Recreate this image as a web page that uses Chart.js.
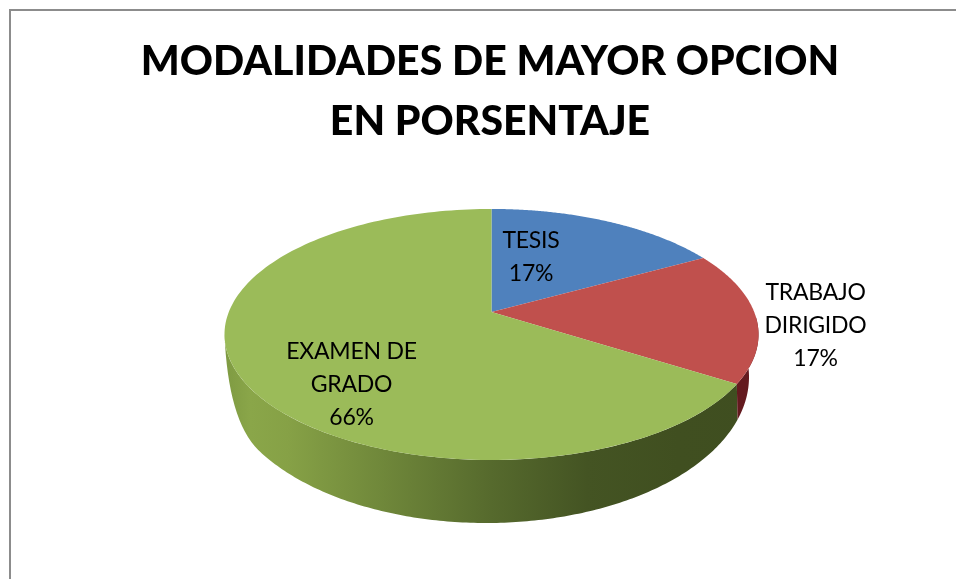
<!DOCTYPE html>
<html>
<head>
<meta charset="utf-8">
<script src="https://cdn.jsdelivr.net/npm/chart.js@4/dist/chart.umd.min.js"></script>
<style>html,body{margin:0;padding:0;background:#fff;overflow:hidden}canvas{display:block}</style>
</head>
<body>
<canvas id="c" width="956" height="579"></canvas>
<script>
const titleLines = ["MODALIDADES DE MAYOR OPCION", "EN PORSENTAJE"];
const categories = ["TESIS", "TRABAJO DIRIGIDO", "EXAMEN DE GRADO"];
const categoryLines = [["TESIS"], ["TRABAJO", "DIRIGIDO"], ["EXAMEN DE", "GRADO"]];
const percentages = [17, 17, 66];
const sliceColors = ["#4f81bd", "#c0504d", "#9bbb59"];

// projection of the flat pie on the screen (perspective tilt)
const view = { cx: 491.5, cy: 312, rx: 262.7, ry: 121.5, k: -0.179 };
// lower edge of the pie wall
const base = { cx: 486, cy: 377, rx: 263, ry: 146 };
const deg = Math.PI / 180;
const labelAnchors = [[531, 257.5], [815.5, 326], [351.5, 385]];
const labelLineHeight = 33;

function project(angle) {
  const u = Math.cos(angle), v = Math.sin(angle), w = 1 + view.k * v;
  return [view.cx + view.rx * u / w, view.cy + view.ry * v / w];
}
function topRim(ctx, a, b) {
  const n = 160;
  for (let i = 0; i <= n; i++) {
    const p = project(a + (b - a) * i / n);
    ctx.lineTo(p[0], p[1]);
  }
}
function baseRim(ctx, a, b) {
  const n = 160;
  for (let i = 0; i <= n; i++) {
    const t = a + (b - a) * i / n;
    ctx.lineTo(base.cx + base.rx * Math.cos(t), base.cy + base.ry * Math.sin(t));
  }
}
function sideGradient(ctx, stops) {
  const g = ctx.createLinearGradient(224, 0, 758, 0);
  stops.forEach(s => g.addColorStop(s[0], s[1]));
  return g;
}

const pie3d = {
  id: "pie3d",
  beforeDraw(chart) {
    const ctx = chart.ctx;
    ctx.save();
    ctx.fillStyle = "#ffffff";
    ctx.fillRect(0, 0, chart.width, chart.height);
    ctx.strokeStyle = "#8c8c8c";
    ctx.lineWidth = 2;
    ctx.beginPath();
    ctx.moveTo(10, chart.height);
    ctx.lineTo(10, 10);
    ctx.lineTo(chart.width, 10);
    ctx.stroke();
    ctx.restore();
  },
  beforeDatasetsDraw(chart) {
    const ctx = chart.ctx;
    const arcs = chart.getDatasetMeta(0).data;
    const colors = chart.data.datasets[0].backgroundColor;
    const green = arcs[2], red = arcs[1];
    ctx.save();
    // wall of the green slice
    ctx.beginPath();
    topRim(ctx, green.startAngle, 170 * deg);
    const joinA = 150 * deg;
    ctx.quadraticCurveTo(228, 420, base.cx + base.rx * Math.cos(joinA), base.cy + base.ry * Math.sin(joinA));
    baseRim(ctx, joinA, 17 * deg);
    ctx.closePath();
    ctx.fillStyle = sideGradient(ctx, [
      [0, "#7e9a42"], [0.05, "#8aa649"], [0.12, "#86a146"], [0.3, "#6f873a"],
      [0.5, "#566a2d"], [0.68, "#445423"], [0.85, "#404f20"], [1, "#3f4e20"]
    ]);
    ctx.fill();
    // wall of the red slice
    ctx.beginPath();
    topRim(ctx, red.endAngle, 2 * deg);
    baseRim(ctx, -5 * deg, 17 * deg);
    ctx.closePath();
    ctx.fillStyle = "#641a1f";
    ctx.fill();
    // top faces
    arcs.forEach((arc, i) => {
      ctx.beginPath();
      ctx.moveTo(view.cx, view.cy);
      topRim(ctx, arc.startAngle, arc.endAngle);
      ctx.closePath();
      ctx.fillStyle = colors[i];
      ctx.fill();
    });
    ctx.restore();
    return false;
  },
  afterDraw(chart) {
    const ctx = chart.ctx;
    ctx.save();
    ctx.fillStyle = "#000000";
    ctx.font = "23px Lato";
    ctx.letterSpacing = "-0.25px";
    ctx.textAlign = "center";
    ctx.textBaseline = "middle";
    categoryLines.forEach((lines, i) => {
      const all = lines.concat([percentages[i] + "%"]);
      const top = labelAnchors[i][1] - (all.length - 1) * labelLineHeight / 2;
      all.forEach((t, j) => ctx.fillText(t, labelAnchors[i][0], top + j * labelLineHeight));
    });
    ctx.restore();
  }
};

new Chart(document.getElementById("c"), {
  type: "pie",
  data: {
    labels: categories,
    datasets: [{ data: percentages, backgroundColor: sliceColors, borderWidth: 0 }]
  },
  options: {
    responsive: false,
    animation: false,
    layout: { padding: { top: 32, left: 24 } },
    plugins: {
      legend: { display: false },
      tooltip: { enabled: false },
      title: {
        display: true,
        text: titleLines,
        color: "#000000",
        font: { family: "Lato", size: 41, weight: "900", lineHeight: 1.463 },
        padding: { top: 0, bottom: 10 }
      }
    }
  },
  plugins: [pie3d]
});
</script>
</body>
</html>
